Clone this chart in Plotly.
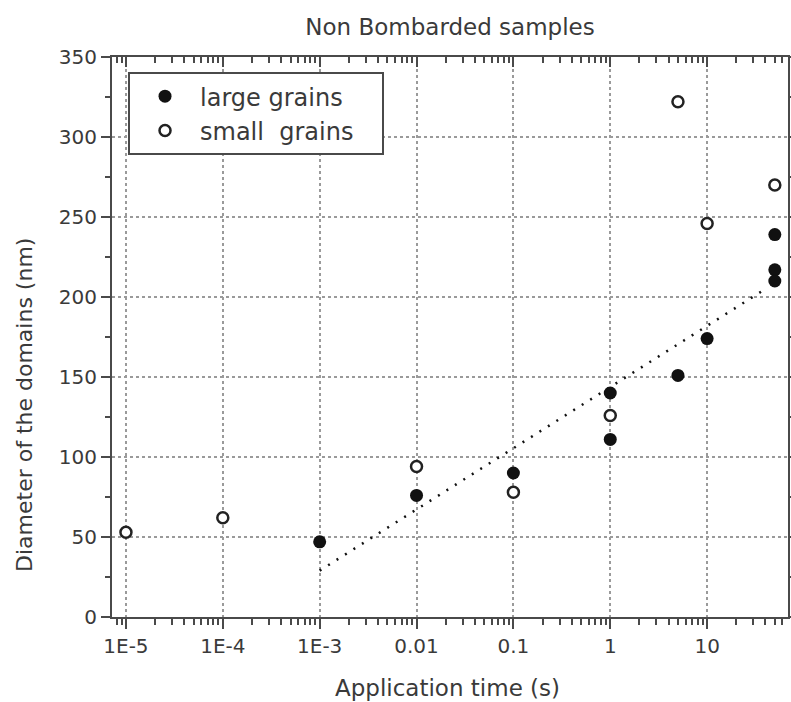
import plotly.graph_objects as go

# Data
large_x = [1e-3, 0.01, 0.1, 1, 1, 5, 10, 50, 50, 50]
large_y = [47, 76, 90, 140, 111, 151, 174, 239, 217, 210]
small_x = [1e-5, 1e-4, 0.01, 0.1, 1, 5, 10, 50]
small_y = [53, 62, 94, 78, 126, 322, 246, 270]
trend_x = [1e-3, 40]
trend_y = [29, 205]

tick_vals = [1e-5, 1e-4, 1e-3, 0.01, 0.1, 1, 10]
tick_text = ["1E-5", "1E-4", "1E-3", "0.01", "0.1", "1", "10"]
minor_vals = [m * 10.0 ** e for e in range(-6, 3) for m in range(2, 10)]

FONT = "DejaVu Sans"
TXT = "#3a3a3a"
AX = "#4a4a4a"
XRANGE = [-5.144, 1.835]

fig = go.Figure()
fig.add_trace(go.Scatter(x=trend_x, y=trend_y, mode="lines", showlegend=False,
                         line=dict(color="#111", width=2.5, dash="2px,8px")))
fig.add_trace(go.Scatter(x=large_x, y=large_y, mode="markers",
                         name="large grains\u00a0\u00a0\u00a0",
                         marker=dict(symbol="circle", size=13, color="#111",
                                     line=dict(width=0))))
fig.add_trace(go.Scatter(x=small_x, y=small_y, mode="markers",
                         name="small  grains\u00a0\u00a0\u00a0",
                         marker=dict(symbol="circle", size=11, color="white",
                                     line=dict(width=2.5, color="#222"))))
# invisible trace to hold the top mirror axis
fig.add_trace(go.Scatter(x=[1e-3], y=[0], xaxis="x2", mode="markers",
                         marker=dict(opacity=0), showlegend=False, hoverinfo="skip"))

fig.update_layout(
    width=791, height=702,
    margin=dict(l=112, r=3, t=57, b=85),
    paper_bgcolor="white", plot_bgcolor="white",
    font=dict(family=FONT, color=TXT),
    title=dict(text="Non Bombarded samples", x=0.5, xref="paper",
               y=1 - 27 / 702, yanchor="middle", font=dict(size=23, color=TXT)),
    legend=dict(x=0.0237, y=0.973, xanchor="left", yanchor="top",
                bgcolor="white", bordercolor=AX, borderwidth=2,
                font=dict(size=24, color=TXT), itemwidth=60,
                tracegroupgap=0),
    xaxis=dict(type="log", range=XRANGE, automargin=False,
               tickmode="array", tickvals=tick_vals, ticktext=tick_text,
               ticks="outside", ticklen=10, tickwidth=2, tickcolor=AX,
               showline=True, linecolor=AX, linewidth=2,
               showgrid=True, gridcolor="#9a9a9a", gridwidth=2, griddash="dot",
               zeroline=False,
               tickfont=dict(size=20, color=TXT),
               minor=dict(tickmode="array", tickvals=minor_vals, ticks="outside",
                          ticklen=6, tickwidth=2, tickcolor=AX, showgrid=False)),
    xaxis2=dict(type="log", range=XRANGE, overlaying="x", side="top",
                anchor="y", automargin=False,
                tickmode="array", tickvals=tick_vals, showticklabels=False,
                ticks="inside", ticklen=10, tickwidth=2, tickcolor=AX,
                showline=True, linecolor=AX, linewidth=2, showgrid=False,
                zeroline=False,
                minor=dict(tickmode="array", tickvals=minor_vals, ticks="inside",
                           ticklen=6, tickwidth=2, tickcolor=AX, showgrid=False)),
    yaxis=dict(range=[0, 350], tickmode="linear", tick0=0, dtick=50,
               automargin=False,
               ticks="outside", ticklen=9, tickwidth=2, tickcolor=AX,
               showline=True, linecolor=AX, linewidth=2, mirror="ticks",
               showgrid=True, gridcolor="#9a9a9a", gridwidth=2, griddash="dot",
               zeroline=False,
               tickfont=dict(size=20, color=TXT),
               minor=dict(dtick=25, ticks="outside", ticklen=5, tickwidth=2,
                          tickcolor=AX, showgrid=False)),
    annotations=[
        dict(text="Application time (s)", xref="paper", yref="paper",
             x=0.4956, y=-0.1268, xanchor="center", yanchor="middle",
             showarrow=False, font=dict(size=23, color=TXT)),
        dict(text="Diameter of the domains (nm)", xref="paper", yref="paper",
             x=-0.1287, y=0.3786, xanchor="center", yanchor="middle",
             textangle=-90, showarrow=False, font=dict(size=22, color=TXT)),
    ],
)

fig.write_html("out.html",
               config={"displayModeBar": False},
               post_script="document.body.style.margin='0';"
                           "document.body.style.overflow='hidden';")
